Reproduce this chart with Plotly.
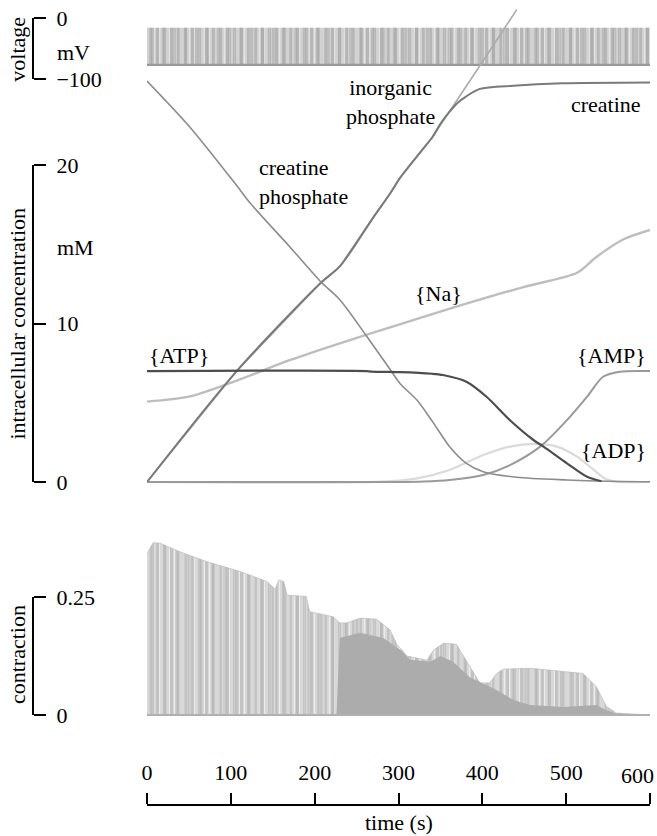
import plotly.graph_objects as go

FONT = "Liberation Serif, Times New Roman, serif"
W, H = 657, 836

# ---------------- data ----------------
time_ticks = [0, 100, 200, 300, 400, 500, 600]
time_labels = ["0", "100", "200", "300", "400", "500", ""]

# membrane voltage band (mV)
volt_t = [0, 600]
volt_rest = [-77, -77]
volt_peak = [-16, -16]

# intracellular concentrations (mM)
crp_t = [0, 51, 107, 123, 171, 208, 230, 262, 290, 302, 322, 342, 361, 381, 401, 441, 501, 550, 600]
crp_c = [25.3, 22.4, 18.7, 17.6, 14.8, 12.6, 11.5, 9.2, 7.1, 6.2, 5.17, 3.7, 2.23, 1.18, 0.65, 0.3, 0.13, 0.05, 0.02]

pi_t = [0, 107, 208, 230, 270, 290, 302, 329, 341, 400, 441]
pi_c = [0.0, 7.0, 12.6, 13.6, 16.7, 18.2, 19.2, 21.0, 21.8, 26.5, 29.8]

cr_t = [0, 107, 208, 230, 270, 290, 302, 329, 341, 350, 360, 370, 380, 397, 437, 496, 600]
cr_c = [0.0, 7.0, 12.6, 13.6, 16.7, 18.2, 19.2, 21.0, 21.8, 22.6, 23.3, 23.9, 24.3, 24.8, 25.0, 25.15, 25.2]

na_t = [0, 51, 107, 171, 230, 290, 369, 449, 513, 536, 568, 600]
na_c = [5.07, 5.4, 6.4, 7.7, 8.75, 9.75, 11.06, 12.3, 13.2, 14.2, 15.3, 15.9]

atp_t = [0, 262, 268, 302, 340, 353, 381, 405, 433, 461, 473, 501, 525, 542]
atp_c = [7.0, 7.0, 6.96, 6.93, 6.83, 6.75, 6.33, 5.38, 3.9, 2.65, 2.23, 1.18, 0.33, 0.05]

amp_t = [0, 300, 330, 361, 401, 433, 469, 501, 525, 544, 564, 600]
amp_c = [0.0, 0.0, 0.03, 0.13, 0.44, 1.07, 2.23, 3.9, 5.38, 6.64, 6.96, 7.0]

adp_t = [0, 280, 322, 361, 401, 433, 461, 489, 513, 533, 548, 560, 600]
adp_c = [0.0, 0.02, 0.23, 0.76, 1.7, 2.23, 2.4, 2.23, 1.6, 0.76, 0.17, 0.02, 0.0]

# contraction: twitch peak envelope and fused (unrelaxed) level
env_t = [0, 7.5, 15.5, 39, 71, 111, 143, 153, 157, 163, 167, 190, 194, 222, 230, 238, 254, 274,
         290, 298, 310, 334, 342, 354, 369, 385, 397, 409, 417, 425, 457, 497, 520, 536, 548, 560, 576, 600]
env_v = [0.342, 0.365, 0.364, 0.346, 0.325, 0.304, 0.283, 0.266, 0.286, 0.283, 0.254, 0.251, 0.219,
         0.208, 0.195, 0.195, 0.205, 0.203, 0.18, 0.15, 0.125, 0.116, 0.138, 0.152, 0.15, 0.103,
         0.068, 0.068, 0.088, 0.097, 0.099, 0.092, 0.088, 0.06, 0.018, 0.004, 0.003, 0.0]

fused_t = [0, 226, 230, 254, 282, 302, 314, 338, 350, 365, 385, 401, 417, 437, 457,
           497, 536, 548, 560, 600]
fused_v = [0.0, 0.0, 0.163, 0.174, 0.163, 0.138, 0.117, 0.113, 0.125, 0.113, 0.08,
           0.066, 0.053, 0.032, 0.021, 0.017, 0.021, 0.01, 0.003, 0.0]

# ---------------- layout helpers (pixel -> paper) ----------------
def px(p):
    return p / W

def py(p):
    return 1 - p / H

fig = go.Figure()

def band_layer(fillcolor, pattern):
    fig.add_trace(go.Scatter(x=volt_t, y=volt_rest, mode="lines", line=dict(width=0), xaxis="x", yaxis="y",
                             showlegend=False, hoverinfo="skip"))
    fig.add_trace(go.Scatter(x=volt_t, y=volt_peak, mode="lines", line=dict(width=0), fill="tonexty",
                             fillcolor=fillcolor, fillpattern=pattern,
                             xaxis="x", yaxis="y", showlegend=False, hoverinfo="skip"))

# voltage band (spike train)
band_layer("#d2d2d2", dict(shape="|", bgcolor="#d2d2d2", fgcolor="#f6f6f6", size=5, solidity=0.25))
band_layer("rgba(0,0,0,0)", dict(shape="|", bgcolor="rgba(0,0,0,0)", fgcolor="#9a9a9a", size=7, solidity=0.45))
band_layer("rgba(0,0,0,0)", dict(shape="|", bgcolor="rgba(0,0,0,0)", fgcolor="#a6a6a6", size=11, solidity=0.3))
fig.add_trace(go.Scatter(x=volt_t, y=volt_rest, mode="lines", line=dict(width=2.2, color="#999999"),
                         xaxis="x", yaxis="y", showlegend=False, hoverinfo="skip"))

# concentrations
def conc(t, c, color, width, shape="linear"):
    fig.add_trace(go.Scatter(x=t, y=c, mode="lines",
                             line=dict(color=color, width=width, shape=shape,
                                       smoothing=0.8 if shape == "spline" else None),
                             xaxis="x", yaxis="y2", showlegend=False, hoverinfo="skip"))

conc(adp_t, adp_c, "#dadada", 2.2, "spline")
conc(amp_t, amp_c, "#9a9a9a", 2.0, "spline")
conc(na_t, na_c, "#bdbdbd", 2.4, "spline")
conc(pi_t, pi_c, "#ababab", 1.6)
conc(cr_t, cr_c, "#7a7a7a", 2.0, "spline")
conc(crp_t, crp_c, "#8c8c8c", 1.6, "spline")
conc(atp_t, atp_c, "#4d4d4d", 2.2, "spline")

# contraction (twitches)
fig.add_trace(go.Scatter(x=env_t, y=env_v, mode="lines", line=dict(width=1, color="#cccccc"),
                         fill="tozeroy", fillcolor="#d8d8d8",
                         fillpattern=dict(shape="|", bgcolor="#d8d8d8", fgcolor="#ffffff", size=5, solidity=0.2),
                         xaxis="x", yaxis="y3", showlegend=False, hoverinfo="skip"))
fig.add_trace(go.Scatter(x=env_t, y=env_v, mode="lines", line=dict(width=0),
                         fill="tozeroy", fillcolor="rgba(0,0,0,0)",
                         fillpattern=dict(shape="|", bgcolor="rgba(0,0,0,0)", fgcolor="#ababab", size=7, solidity=0.4),
                         xaxis="x", yaxis="y3", showlegend=False, hoverinfo="skip"))
fig.add_trace(go.Scatter(x=env_t, y=env_v, mode="lines", line=dict(width=0),
                         fill="tozeroy", fillcolor="rgba(0,0,0,0)",
                         fillpattern=dict(shape="|", bgcolor="rgba(0,0,0,0)", fgcolor="#b0b0b0", size=12, solidity=0.25),
                         xaxis="x", yaxis="y3", showlegend=False, hoverinfo="skip"))
fig.add_trace(go.Scatter(x=fused_t, y=fused_v, mode="lines", line=dict(width=0),
                         fill="tozeroy", fillcolor="#acacac",
                         xaxis="x", yaxis="y3", showlegend=False, hoverinfo="skip"))
fig.add_trace(go.Scatter(x=[0, 600], y=[0, 0], mode="lines", line=dict(width=2, color="#b0b0b0"),
                         xaxis="x", yaxis="y3", showlegend=False, hoverinfo="skip"))

# empty traces so the bracket axes are drawn
fig.add_trace(go.Scatter(x=[], y=[], xaxis="x", yaxis="y4", showlegend=False, hoverinfo="skip"))
fig.add_trace(go.Scatter(x=[], y=[], xaxis="x", yaxis="y5", showlegend=False, hoverinfo="skip"))

tickfont = dict(family=FONT, size=22, color="black")

bracket = dict(anchor="free", position=px(33), side="right", ticks="outside", ticklen=12, tickwidth=2,
               tickcolor="black", showline=True, linewidth=2, linecolor="black", showgrid=False,
               zeroline=False, tickfont=tickfont, ticklabelstandoff=6, fixedrange=True)

# concentration scale: 0 mM at 482 px, 20 mM at 165 px
c_ppm = (482 - 165) / 20.0
# contraction scale: 0 at 715 px, 0.25 at 597 px
k_ppu = (715 - 597) / 0.25

fig.update_layout(
    width=W, height=H,
    margin=dict(l=0, r=0, t=0, b=0, pad=0, autoexpand=False),
    paper_bgcolor="white", plot_bgcolor="rgba(0,0,0,0)",
    font=dict(family=FONT, size=22, color="black"),
    xaxis=dict(domain=[px(147), px(650)], range=[0, 600], anchor="free", position=py(805), side="top",
               ticks="outside", ticklen=11, tickwidth=2, tickcolor="black", showline=True, linewidth=2,
               linecolor="black", tickvals=time_ticks, ticktext=time_labels, showgrid=False, zeroline=False,
               tickfont=tickfont, ticklabelstandoff=4, fixedrange=True),
    yaxis=dict(domain=[py(79), py(18)], range=[-100, 0], tickvals=[-100, 0], ticktext=["\u2212100", "0"],
               **bracket),
    yaxis2=dict(domain=[py(490), py(0)], range=[-(490 - 482) / c_ppm, 482 / c_ppm], visible=False,
                anchor="free", position=0, fixedrange=True),
    yaxis3=dict(domain=[py(725), py(520)], range=[-(725 - 715) / k_ppu, (715 - 520) / k_ppu], visible=False,
                anchor="free", position=0, fixedrange=True),
    yaxis4=dict(domain=[py(482), py(165)], range=[0, 20], tickvals=[0, 10, 20], **bracket),
    yaxis5=dict(domain=[py(715), py(597)], range=[0, 0.25], tickvals=[0, 0.25], ticktext=["0", "0.25"],
                **bracket),
)

def ann(text, x, y, xref, yref, xanchor="center", yanchor="middle", angle=0, align="center", xshift=0):
    fig.add_annotation(text=text, x=x, y=y, xref=xref, yref=yref, xanchor=xanchor, yanchor=yanchor,
                       showarrow=False, textangle=angle, align=align, xshift=xshift,
                       font=dict(family=FONT, size=22, color="black"))

# axis unit/title labels
ann("voltage", px(18), -52, "paper", "y", angle=-90)
ann("mV", px(55), -57, "paper", "y", xanchor="left")
ann("intracellular concentration", px(17), 10, "paper", "y4", angle=-90)
ann("mM", px(55), 14.8, "paper", "y4", xanchor="left")
ann("contraction", px(17), 0.127, "paper", "y5", angle=-90)
ann("time (s)", 300, py(822), "x", "paper")
# last time tick label, pulled inside the page edge
ann(str(time_ticks[-1]), time_ticks[-1], py(775), "x", "paper", xanchor="right", xshift=6)

# curve labels
ann("{ATP}", 0, 8.0, "x", "y2", xanchor="left")
ann("creatine<br>phosphate", 131, 18.9, "x", "y2", xanchor="left", align="left")
ann("inorganic<br>phosphate", 290, 24.0, "x", "y2")
ann("creatine", 592, 23.8, "x", "y2", xanchor="right")
ann("{Na}", 348, 11.9, "x", "y2")
ann("{AMP}", 598, 8.0, "x", "y2", xanchor="right")
ann("{ADP}", 598, 2.0, "x", "y2", xanchor="right")

fig.write_html("out.html", config={"displayModeBar": False},
               post_script="document.body.style.margin='0';document.body.style.overflow='hidden';")
